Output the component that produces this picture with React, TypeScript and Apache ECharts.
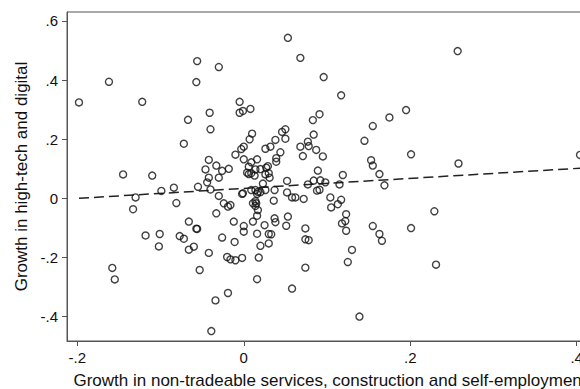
import React, { useEffect, useRef } from "react";
import * as echarts from "echarts";

const xTitle = "Growth in non-tradeable services, construction and self-employment";
const yTitle = "Growth in high-tech and digital";

const xTicks = [-0.2, 0, 0.2, 0.4];
const yTicks = [-0.4, -0.2, 0, 0.2, 0.4, 0.6];
const xRange = [-0.2124, 0.4196];
const yRange = [-0.4847, 0.6305];

// Observations (non-tradeable growth, high-tech growth)
const points: [number, number][] = [
  [-0.198, 0.324], [-0.162, 0.394], [-0.122, 0.326], [-0.145, 0.080], [-0.110, 0.076],
  [-0.056, 0.464], [-0.057, 0.393], [-0.067, 0.265], [-0.072, 0.184], [-0.130, 0.002],
  [-0.099, 0.024], [-0.084, 0.035], [-0.055, 0.038], [-0.133, -0.038], [-0.081, -0.017],
  [-0.118, -0.127], [-0.101, -0.122], [-0.102, -0.164], [-0.077, -0.129], [-0.072, -0.138],
  [-0.066, -0.080], [-0.056, -0.105], [-0.066, -0.175], [-0.060, -0.165], [-0.158, -0.237],
  [-0.155, -0.276], [-0.053, -0.244],
  [0.053, 0.543], [0.068, 0.475], [0.096, 0.410], [0.117, 0.348], [0.155, 0.244],
  [0.145, 0.194], [-0.030, 0.444], [-0.041, 0.289], [-0.040, 0.233], [-0.005, 0.326],
  [-0.005, 0.289], [-0.001, 0.295], [0.008, 0.302], [0.010, 0.218], [0.007, 0.199],
  [0.000, 0.174], [-0.003, 0.166], [-0.010, 0.147], [0.000, 0.131], [0.016, 0.131],
  [-0.042, 0.129], [-0.033, 0.110], [-0.026, 0.092], [-0.018, 0.099], [-0.046, 0.097],
  [-0.042, 0.069], [-0.044, 0.053], [-0.040, 0.029], [-0.030, 0.069], [-0.030, 0.007],
  [-0.001, 0.016], [0.004, 0.086], [0.006, 0.081], [0.009, 0.084], [0.006, 0.106],
  [0.014, 0.097], [0.009, 0.121], [0.013, 0.076], [0.023, 0.049], [0.009, 0.027],
  [0.014, 0.027], [0.017, 0.021], [0.027, 0.103], [0.029, 0.108], [0.026, 0.080],
  [0.030, 0.084], [0.031, 0.069], [0.026, 0.167], [0.032, 0.174], [0.038, 0.197],
  [0.046, 0.224], [0.050, 0.233], [0.050, 0.201], [0.044, 0.155], [0.039, 0.135],
  [0.039, 0.123], [0.026, 0.027], [0.037, 0.027], [0.052, 0.058], [0.052, 0.019],
  [0.068, 0.174], [0.071, 0.142], [0.077, 0.191], [0.078, 0.176], [0.084, 0.215],
  [0.083, 0.264], [0.091, 0.284], [0.087, 0.163], [0.095, 0.141], [0.089, 0.093],
  [0.084, 0.059], [0.092, 0.060], [0.077, 0.046], [0.088, 0.025], [0.091, 0.028],
  [0.104, 0.002], [0.115, 0.046], [0.119, 0.078], [0.153, 0.128], [0.155, 0.110],
  [0.163, 0.081], [0.117, -0.006], [0.062, 0.002], [0.058, 0.002], [0.072, -0.003],
  [0.257, 0.498], [0.195, 0.298], [0.175, 0.273], [0.201, 0.148], [0.258, 0.117],
  [0.404, 0.146], [0.169, 0.043], [0.098, 0.053], [0.020, 0.098], [0.020, 0.020],
  [-0.033, -0.052], [-0.024, -0.018], [-0.019, -0.029], [-0.016, -0.024], [-0.002, 0.014],
  [0.016, 0.014], [0.014, -0.011], [0.011, -0.018], [0.015, -0.018], [0.014, -0.027],
  [0.017, -0.041], [0.016, -0.060], [0.011, -0.080], [0.000, -0.095], [0.000, -0.114],
  [-0.012, -0.080], [0.036, -0.009], [0.025, -0.092], [0.037, -0.069], [0.038, -0.082],
  [0.016, -0.121], [0.030, -0.122], [0.033, -0.123], [0.020, -0.162], [0.030, -0.154],
  [0.018, -0.202], [0.016, -0.275], [-0.057, -0.104], [-0.026, -0.134], [-0.011, -0.149],
  [-0.042, -0.186], [-0.020, -0.200], [-0.016, -0.208], [-0.010, -0.211], [-0.002, -0.203],
  [-0.019, -0.322], [-0.034, -0.347], [-0.039, -0.451], [0.053, -0.063], [0.051, -0.094],
  [0.058, -0.307], [0.074, -0.103], [0.074, -0.140], [0.078, -0.143], [0.074, -0.236],
  [0.105, -0.032], [0.113, -0.021], [0.123, -0.055], [0.118, -0.086], [0.122, -0.078],
  [0.123, -0.111], [0.130, -0.176], [0.125, -0.217], [0.139, -0.402], [0.155, -0.095],
  [0.163, -0.122], [0.166, -0.145], [0.201, -0.102], [0.229, -0.045], [0.231, -0.226],
];

// Fitted values line endpoints
const fitLine: [number, number][] = [
  [-0.198, -0.001],
  [0.404, 0.101],
];

const FONT = "'Liberation Sans', Arial, Helvetica, sans-serif";
const fmt = (v: number) => {
  if (Math.abs(v) < 1e-9) return "0";
  return v.toFixed(1).replace("0.", ".");
};

export default function App() {
  const ref = useRef<HTMLDivElement>(null);
  useEffect(() => {
    if (!ref.current) return;
    const chart = echarts.init(ref.current, null, { renderer: "svg" });
    const axisColor = "#555";
    chart.setOption({
      animation: false,
      backgroundColor: "#fff",
      grid: {
        left: 67,
        top: 12,
        width: 526,
        height: 329,
        show: true,
        borderColor: axisColor,
        borderWidth: 1,
        outerBoundsMode: "none",
      },
      xAxis: {
        type: "value",
        min: xRange[0],
        max: xRange[1],
        name: xTitle,
        nameLocation: "middle",
        nameGap: 31,
        nameTextStyle: { fontSize: 17, color: "#111", fontFamily: FONT },
        axisLine: { show: true, onZero: false, lineStyle: { color: axisColor, width: 1 } },
        axisTick: { show: true, length: 5, customValues: xTicks, lineStyle: { color: axisColor } },
        axisLabel: {
          customValues: xTicks,
          formatter: fmt,
          fontSize: 15,
          color: "#111",
          fontFamily: FONT,
          margin: 9,
        },
        splitLine: { show: false },
      },
      yAxis: {
        type: "value",
        min: yRange[0],
        max: yRange[1],
        name: yTitle,
        nameLocation: "middle",
        nameGap: 36,
        nameTextStyle: { fontSize: 17, color: "#111", fontFamily: FONT },
        axisLine: { show: true, onZero: false, lineStyle: { color: axisColor, width: 1 } },
        axisTick: { show: true, length: 5, customValues: yTicks, lineStyle: { color: axisColor } },
        axisLabel: {
          customValues: yTicks,
          formatter: fmt,
          fontSize: 15,
          color: "#111",
          fontFamily: FONT,
          margin: 9,
        },
        splitLine: { show: false },
      },
      series: [
        {
          type: "line",
          data: fitLine,
          symbol: "none",
          silent: true,
          lineStyle: { color: "#222", width: 1.5, type: [10, 5] },
          z: 1,
        },
        {
          type: "scatter",
          data: points,
          symbol: "circle",
          symbolSize: 7,
          itemStyle: { color: "rgba(0,0,0,0)", borderColor: "#111", borderWidth: 1.4 },
          z: 2,
        },
      ],
    });
    return () => chart.dispose();
  }, []);
  return (
    <div style={{ position: "fixed", left: 0, top: 0, width: 580, height: 389, overflow: "hidden", background: "#fff" }}>
      <div ref={ref} style={{ width: 600, height: 389 }} />
    </div>
  );
}
